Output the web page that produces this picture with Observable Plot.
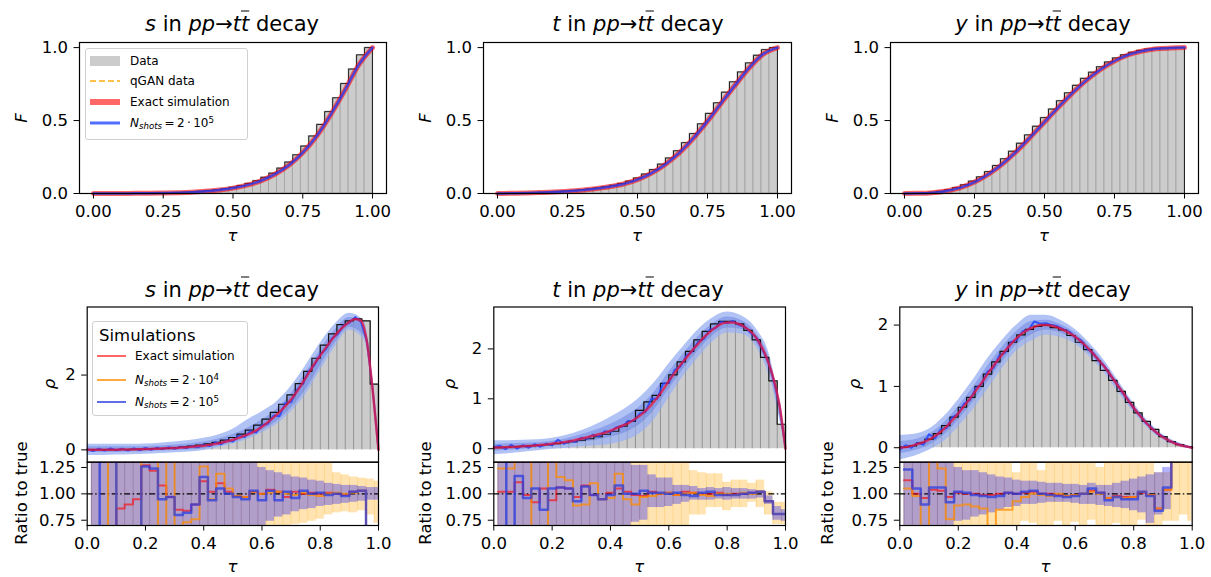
<!DOCTYPE html>
<html>
<head>
<meta charset="utf-8">
<script src="https://cdn.jsdelivr.net/npm/d3@7"></script>
<script src="https://cdn.jsdelivr.net/npm/@observablehq/plot@0.6"></script>
<style>
html,body{margin:0;padding:0;background:#fff;}
#fig{position:relative;width:1211px;height:577px;overflow:hidden;font-family:"DejaVu Sans",sans-serif;color:#000;}
.t{position:absolute;white-space:nowrap;line-height:1;}
.c{transform:translate(-50%,-50%);}
.r{transform:translate(-50%,-50%) rotate(-90deg);}
.ov{text-decoration:overline;text-decoration-thickness:1px;}
.leg{position:absolute;background:rgba(255,255,255,0.8);border:1px solid #d0d0d0;border-radius:3px;box-sizing:border-box;}
.row{position:absolute;left:4px;height:20px;display:flex;align-items:center;white-space:nowrap;}
.row svg{flex:none;}
.sb{font-size:0.72em;vertical-align:-0.25em;line-height:0;}
.sp{font-size:0.72em;vertical-align:0.45em;line-height:0;}
</style>
</head>
<body>
<div id="fig"></div>
<script>
// ---------- x grids (categories) ----------
const tau21 = d3.range(21).map(i => i / 20);
const tau51 = d3.range(51).map(i => i / 50);
const binEdges = d3.range(36).map(k => k / 35);
const binCenters = d3.range(35).map(k => (k + 0.5) / 35);

// ---------- histogram "Data" densities (35 bins) ----------
const histS = [0.005,0.005,0.005,0.005,0.01,0.015,0.02,0.025,0.03,0.04,0.06,0.08,0.1,0.13,0.16,0.2,0.26,0.33,0.42,0.53,0.66,0.82,1.0,1.22,1.47,1.77,2.1,2.45,2.8,3.1,3.35,3.45,3.5,3.45,1.76];
const histT = [0.02,0.03,0.04,0.05,0.06,0.07,0.08,0.1,0.12,0.14,0.17,0.2,0.24,0.29,0.35,0.45,0.55,0.77,0.94,1.07,1.31,1.48,1.74,1.95,2.18,2.35,2.5,2.55,2.55,2.5,2.37,2.18,1.83,1.36,0.49];
const histY = [0.01,0.03,0.08,0.14,0.23,0.36,0.5,0.66,0.82,1.0,1.2,1.4,1.57,1.72,1.84,1.93,1.98,2.0,1.96,1.92,1.83,1.72,1.6,1.42,1.26,1.1,0.92,0.74,0.57,0.43,0.3,0.18,0.1,0.05,0.02];

// ---------- CDF curves (tau21) ----------
const cdfExactS = [0,0.0002,0.0005,0.001,0.0018,0.003,0.0055,0.009,0.015,0.024,0.037,0.057,0.087,0.132,0.193,0.28,0.394,0.54,0.705,0.88,1.0];
const cdfShotsS = [0,0.0003,0.0006,0.0011,0.0019,0.0031,0.0056,0.0092,0.0152,0.0243,0.0372,0.0572,0.0874,0.1324,0.1935,0.2805,0.3943,0.5405,0.7052,0.8803,1.0];
const cdfExactT = [0,0.0012,0.0032,0.0062,0.01,0.015,0.0225,0.033,0.046,0.065,0.095,0.14,0.201,0.28,0.38,0.496,0.622,0.746,0.864,0.957,1.0];
const cdfShotsT = [0,0.0013,0.0033,0.0063,0.0101,0.0152,0.0227,0.0332,0.0462,0.0652,0.0953,0.1402,0.2012,0.2803,0.3802,0.4962,0.6222,0.7462,0.8641,0.9571,1.0];
const cdfExactY = [0,0.001,0.0056,0.017,0.04,0.078,0.132,0.203,0.289,0.387,0.49,0.592,0.69,0.777,0.85,0.908,0.951,0.977,0.992,0.997,1.0];
const cdfShotsY = [0,0.0011,0.0057,0.0172,0.0403,0.0782,0.1322,0.2033,0.2892,0.3873,0.4902,0.5922,0.6902,0.7772,0.8502,0.9081,0.9511,0.9771,0.9921,0.9971,1.0];

// ---------- PDF curves (tau51) ----------
const exactS = [0,0,0,0.002,0.004,0.005,0.007,0.009,0.012,0.016,0.02,0.025,0.03,0.037,0.045,0.05,0.06,0.07,0.085,0.1,0.11,0.135,0.16,0.19,0.23,0.27,0.32,0.38,0.44,0.52,0.62,0.74,0.87,1.01,1.17,1.35,1.56,1.8,2.05,2.3,2.52,2.74,2.95,3.14,3.3,3.42,3.5,3.45,2.9,1.6,0];
const shotsS = [0.02,-0.03,0.03,-0.02,0.04,-0.01,0.03,-0.02,0.04,-0.01,0.05,0.0,0.06,0.02,0.07,0.03,0.08,0.05,0.1,0.07,0.14,0.1,0.2,0.15,0.26,0.22,0.38,0.34,0.5,0.46,0.66,0.7,0.92,0.9,1.25,1.28,1.6,1.77,2.1,2.27,2.55,2.7,2.98,3.1,3.33,3.4,3.55,3.42,2.92,1.62,0];
const exactT = [0.02,0.025,0.03,0.035,0.04,0.05,0.055,0.065,0.075,0.085,0.1,0.115,0.13,0.15,0.175,0.2,0.23,0.26,0.29,0.32,0.36,0.41,0.46,0.51,0.58,0.66,0.76,0.88,1.02,1.18,1.36,1.52,1.68,1.82,1.97,2.1,2.23,2.34,2.43,2.5,2.53,2.53,2.5,2.44,2.35,2.22,2.02,1.75,1.38,0.85,0];
const shotsT = [0.03,0.06,-0.01,0.08,0.0,0.07,0.02,0.09,0.04,0.1,0.07,0.18,0.1,0.16,0.14,0.22,0.2,0.28,0.25,0.35,0.33,0.43,0.44,0.55,0.56,0.7,0.74,1.0,1.0,1.3,1.32,1.58,1.65,1.86,1.95,2.14,2.2,2.38,2.42,2.54,2.52,2.56,2.48,2.45,2.33,2.23,2.0,1.76,1.37,0.86,0];
const exactY = [0,0.01,0.03,0.06,0.09,0.13,0.19,0.26,0.35,0.45,0.56,0.68,0.8,0.93,1.06,1.2,1.33,1.46,1.58,1.69,1.79,1.87,1.93,1.97,2.0,2.0,1.99,1.96,1.92,1.87,1.81,1.73,1.64,1.54,1.43,1.32,1.19,1.05,0.92,0.78,0.65,0.53,0.42,0.32,0.24,0.17,0.12,0.07,0.04,0.02,0];
const shotsY = [-0.03,0.04,0.0,0.08,0.05,0.22,0.15,0.3,0.32,0.5,0.55,0.72,0.78,0.97,1.04,1.24,1.3,1.5,1.55,1.72,1.76,1.9,1.92,2.06,2.02,2.03,2.0,1.98,1.93,1.89,1.8,1.75,1.62,1.55,1.42,1.33,1.18,1.06,0.91,0.79,0.64,0.54,0.41,0.33,0.23,0.18,0.11,0.08,0.04,0.02,0];

// ---------- N_shots uncertainty bands (tau21) ----------
const hi2S = [.15,.15,.15,.15,.16,.18,.21,.25,.31,.4,.55,.8,1.02,1.28,1.7,2.25,2.85,3.35,3.65,3.45,.05];
const hi1S = [.08,.08,.08,.08,.09,.1,.13,.16,.21,.29,.41,.58,.8,1.08,1.5,2.06,2.66,3.2,3.54,3.33,.02];
const lo1S = [-.07,-.07,-.07,-.06,-.05,-.03,-.02,0,.03,.1,.2,.33,.52,.76,1.12,1.6,2.25,2.85,3.28,3.05,0];
const lo2S = [-.15,-.15,-.14,-.13,-.12,-.1,-.08,-.06,-.02,.06,.16,.28,.46,.68,1.02,1.48,2.12,2.74,3.2,2.95,0];
const hi2T = [.16,.16,.17,.18,.21,.27,.36,.48,.63,.8,1.02,1.32,1.7,2.05,2.38,2.62,2.74,2.66,2.4,1.78,.05];
const hi1T = [.09,.1,.11,.12,.15,.2,.28,.37,.49,.64,.84,1.13,1.53,1.9,2.24,2.5,2.64,2.57,2.31,1.69,.02];
const lo1T = [-.05,-.03,-.01,.02,.05,.08,.12,.17,.23,.32,.48,.77,1.19,1.6,1.96,2.26,2.42,2.39,2.13,1.45,0];
const lo2T = [-.12,-.1,-.07,-.04,-.01,.01,.04,.06,.09,.16,.3,.58,1.02,1.45,1.82,2.14,2.32,2.3,2.04,1.35,0];
const hi2Y = [.2,.22,.3,.5,.78,1.1,1.45,1.75,2.0,2.16,2.16,2.08,1.93,1.7,1.42,1.07,.72,.43,.21,.09,.02];
const hi1Y = [.1,.13,.22,.4,.67,.98,1.33,1.64,1.9,2.06,2.08,2.01,1.87,1.65,1.37,1.03,.69,.4,.19,.075,.01];
const lo1Y = [-.1,-.05,.04,.2,.45,.74,1.07,1.4,1.68,1.84,1.92,1.87,1.75,1.53,1.27,.93,.61,.34,.15,.045,-.01];
const lo2Y = [-.2,-.14,-.04,.1,.34,.62,.95,1.29,1.58,1.74,1.84,1.8,1.69,1.48,1.22,.89,.58,.31,.13,.03,-.02];

// ---------- ratio to true (bin centers, 35) ----------
const rExactS = [0,0,0,0.86,0.9,0.95,1.27,1.22,1.08,0.97,0.85,0.84,0.9,1.12,1.02,1.1,1.02,0.98,0.97,1.02,1.0,1.04,1.02,0.97,1.02,1.0,1.01,1.0,1.01,1.0,0.99,1.02,1.03,0.5,0.5];
const r4S = [0,0,2,0,0,0,2,2,0,2,0,0.73,0.76,1.26,0.95,1.19,1.05,0.98,0.97,1.02,1.0,1.01,1.02,1.0,0.99,1.01,0.99,0.98,1.0,1.01,1.0,1.01,1.03,0.5,0.5];
const r5S = [0,2,2,0,0,0,1.26,1.24,0.95,0.97,0.8,0.82,0.9,1.16,0.94,1.05,1.0,0.97,0.95,1.03,0.94,1.03,0.94,1.02,0.96,1.03,1.0,1.01,0.99,1.0,0.98,1.02,1.03,0.5,0.5];
const o4LoS = [0,0,0,0,0,0,0,0,0,0,0,0,0,0,0,0,0,0,0,0,0,0,0,0,0.71,0.72,0.74,0.76,0.8,0.82,0.83,0.82,0.84,0.8,0.72];
const o4HiS = [2,2,2,2,2,2,2,2,2,2,2,2,2,2,2,2,2,2,2,2,2,2,2,2,2,2,2,2,2,1.2,1.18,1.16,1.15,1.14,1.12];
const b5LoS = [0,0,0,0,0,0,0,0,0,0,0,0,0,0,0,0,0,0,0,0,0.7,0.74,0.78,0.8,0.83,0.85,0.86,0.88,0.89,0.9,0.91,0.92,0.93,0.94,0.94];
const b5HiS = [2,2,2,2,2,2,2,2,2,2,2,2,2,2,2,2,2,2,2,2,1.25,1.22,1.2,1.18,1.16,1.15,1.13,1.12,1.1,1.09,1.08,1.08,1.07,1.06,1.06];

const rExactT = [1.02,1.02,1.11,0.99,0.92,1.05,0.94,1.06,1.05,0.97,1.08,0.99,0.95,1.01,1.05,1.02,0.99,0.98,1.02,1.0,1.01,0.99,1.02,1.01,1.0,1.0,1.01,0.99,1.0,1.0,1.01,1.02,0.93,0.81,0.81];
const r4T = [1.24,1.24,2,2,0,0,2,1.16,1.13,0.89,0.9,1.1,0.95,0.96,1.19,0.95,0.9,0.97,0.98,1.0,1.01,0.99,1.0,1.01,0.99,0.98,1.0,1.0,0.99,1.01,1.0,1.02,0.93,0.81,0.81];
const r5T = [2,0,1.17,0.96,1.05,0.85,1.05,1.06,1.05,0.93,1.07,0.99,0.95,0.99,1.08,1.0,1.0,1.03,1.01,1.01,1.0,1.01,0.99,0.98,1.01,1.02,0.99,0.99,0.99,1.0,1.01,1.02,0.93,0.81,0.81];
const o4LoT = [0,0,0,0,0,0,0,0,0,0,0,0,0,0,0,0,0,0,0,0,0,0,0,0.8,0.8,0.87,0.87,0.84,0.87,0.87,0.92,0.87,0.8,0.71,0.71];
const o4HiT = [2,2,2,2,2,2,2,2,2,2,2,2,2,2,2,2,2,2,2,2,2,2,2,1.22,1.2,1.19,1.19,1.11,1.13,1.13,1.1,1.13,1.02,0.92,0.92];
const b5LoT = [0,0,0,0,0,0,0,0,0,0,0,0,0,0,0,0,0.73,0.75,0.87,0.87,0.88,0.9,0.92,0.94,0.94,0.94,0.95,0.94,0.95,0.95,0.95,0.96,0.9,0.75,0.74];
const b5HiT = [2,2,2,2,2,2,2,2,2,2,2,2,2,2,2,2,1.27,1.27,1.18,1.15,1.15,1.08,1.08,1.07,1.05,1.06,1.05,1.06,1.05,1.05,1.04,1.03,0.98,0.88,0.85];

const rExactY = [1.13,1.0,0.96,1.04,1.03,0.97,1.01,1.0,1.0,0.99,0.99,1.0,1.01,1.0,1.01,1.02,1.0,1.0,0.99,0.98,0.99,1.0,1.03,1.01,0.96,0.98,0.97,0.97,1.01,0.99,0.86,1.04,2,2,2];
const r4Y = [1.05,0.98,0,2,1.24,0.76,0.89,0.9,0.88,0.86,0,0.85,0.85,0.93,0.97,1.0,0.99,0.98,1.0,0.98,0.99,1.0,1.02,1.0,0.96,0.97,0.96,0.97,1.02,0.99,0.86,1.04,2,2,2];
const r5Y = [1.23,1.05,0.9,1.06,1.06,0.92,1.02,1.01,0.99,0.98,0.97,0.98,1.01,1.0,1.02,1.03,1.0,0.99,0.98,0.97,0.98,1.0,1.05,1.01,0.94,0.97,0.95,0.95,1.02,0.98,0.84,1.06,2,2,2];
const o4LoY = [0,0,0,0,0,0,0,0,0,0,0,0,0,0,0.74,0.72,0,0,0.74,0,0.73,0,0.75,0,0,0.72,0,0,0.75,0,0,0.74,0.74,0.8,0.74];
const o4HiY = [2,2,2,2,2,2,2,2,2,2,2,2,2,1.2,2,2,1.22,2,2,2,2,2,2,1.25,2,2,2,2,2,2,1.2,1.2,2,2,2];
const b5LoY = [0,0,0,0,0,0,0.74,0.75,0.78,0.8,0.82,0.85,0.87,0.88,0.9,0.9,0.91,0.92,0.92,0.92,0.91,0.9,0.9,0.89,0.88,0.87,0.86,0.84,0.82,0.72,0.8,0.85,null,null,null];
const b5HiY = [2,2,2,2,2,2,1.25,1.22,1.22,1.2,1.18,1.16,1.15,1.13,1.12,1.12,1.11,1.1,1.1,1.09,1.09,1.08,1.1,1.08,1.08,1.1,1.12,1.14,1.16,1.18,1.2,1.25,null,null,null];

// ---------- layout ----------
const fig = document.getElementById("fig");
const STYLE = {fontFamily:'"DejaVu Sans", sans-serif', fontSize:"16.5px", color:"#000", background:"transparent", overflow:"visible"};
const topBox = [{l:79,r:386},{l:483,r:791},{l:890,r:1198}].map(b => ({...b, t:42, b:193}));
const midBox = [{l:86.7,r:378},{l:493.3,r:785},{l:899.3,r:1191.7}].map(b => ({...b, t:306.5, b:461.7}));
const ratBox = midBox.map(b => ({l:b.l, r:b.r, t:461.7, b:525}));

function panel(box, opts) {
  const padL = 62, padR = 14, padT = 6, padB = 34;
  const left = Math.floor(box.l - padL), top = Math.floor(box.t - padT);
  const width = Math.ceil(box.r + padR) - left, height = Math.ceil(box.b + padB) - top;
  const p = Plot.plot({
    width, height,
    marginLeft: box.l - left, marginRight: width - (box.r - left),
    marginTop: box.t - top, marginBottom: height - (box.b - top),
    style: STYLE,
    ...opts
  });
  p.style.position = "absolute"; p.style.left = left + "px"; p.style.top = top + "px";
  fig.appendChild(p);
}
function outlineOf(vals) {
  const pts = [{x:0, y:0}];
  vals.forEach((v,k) => { pts.push({x:binEdges[k], y:v}, {x:binEdges[k+1], y:v}); });
  pts.push({x:1, y:0});
  return pts;
}
const axY = (ticks, fmt) => Plot.axisY({ticks, tickFormat:d3.format(fmt), tickSize:5.5, tickPadding:6, label:null});
const axX = (ticks, fmt) => Plot.axisX({ticks, tickFormat:d3.format(fmt), tickSize:5.5, tickPadding:6.5, label:null});
const FRAME = () => Plot.frame({stroke:"#000", strokeWidth:1.2});

function cdfPanel(i, hist, cExact, cShots) {
  const total = d3.sum(hist);
  const cum = Array.from(d3.cumsum(hist), v => v / total);
  const bars = cum.map((v,k) => ({x1:binEdges[k], x2:binEdges[k+1], y1:0, y2:v}));
  const curve = tau21.map((x,j) => ({x, e:cExact[j], s:cShots[j]}));
  panel(topBox[i], {
    x:{domain:[-0.05,1.05]}, y:{domain:[0,1.035]},
    marks:[
      Plot.rect(bars, {x1:"x1", x2:"x2", y1:"y1", y2:"y2", fill:"#cccccc", stroke:"#9a9a9a", strokeWidth:0.7}),
      Plot.line(outlineOf(cum), {x:"x", y:"y", stroke:"#222", strokeWidth:1}),
      Plot.line(curve, {x:"x", y:"e", stroke:"red", strokeOpacity:0.6, strokeWidth:5, curve:"monotone-x"}),
      Plot.line(curve, {x:"x", y:"s", stroke:"#1a3cff", strokeOpacity:0.75, strokeWidth:2.5, curve:"monotone-x"}),
      FRAME(),
      axX([0,0.25,0.5,0.75,1], ".2f"),
      axY([0,0.5,1], ".1f")
    ]
  });
}

function pdfPanel(i, yDomain, yTicks, hist, exact, shots, lo2, lo1, hi1, hi2) {
  const bars = hist.map((h,k) => ({x1:binEdges[k], x2:binEdges[k+1], y1:0, y2:h}));
  const edges = d3.range(1,35).map(k => ({x:binEdges[k], y1:0, y2:Math.max(hist[k-1], hist[k])}));
  const band = tau21.map((x,j) => ({x, lo2:lo2[j], lo1:lo1[j], hi1:hi1[j], hi2:hi2[j]}));
  const line = tau51.map((x,j) => ({x, e:exact[j], s:shots[j]}));
  panel(midBox[i], {
    x:{domain:[0,1], axis:null}, y:{domain:yDomain},
    marks:[
      Plot.rect(bars, {x1:"x1", x2:"x2", y1:"y1", y2:"y2", fill:"#cccccc"}),
      Plot.ruleX(edges, {x:"x", y1:"y1", y2:"y2", stroke:"#8c8c8c", strokeWidth:0.8}),
      Plot.areaY(band, {x:"x", y1:"lo2", y2:"hi2", fill:"#9db3f2", fillOpacity:0.8, curve:"monotone-x", clip:true}),
      Plot.areaY(band, {x:"x", y1:"lo1", y2:"hi1", fill:"#637ae1", fillOpacity:0.45, curve:"monotone-x", clip:true}),
      Plot.ruleX(edges, {x:"x", y1:"y1", y2:"y2", stroke:"#8c8c8c", strokeWidth:0.8, strokeOpacity:0.35}),
      Plot.line(outlineOf(hist), {x:"x", y:"y", stroke:"#111", strokeWidth:1.2}),
      Plot.line(line, {x:"x", y:"s", stroke:"#1f45ff", strokeOpacity:0.85, strokeWidth:2, clip:true}),
      Plot.line(line, {x:"x", y:"e", stroke:"#ee1133", strokeOpacity:0.72, strokeWidth:2.5, curve:"monotone-x"}),
      FRAME(),
      axY(yTicks, "d")
    ]
  });
}

function ratioPanel(i, rEx, r4, r5, oLo, oHi, bLo, bHi) {
  const xs = binCenters.concat([1]);
  const ext = a => a.concat([a[a.length-1]]);
  const E = ext(rEx), L = ext(r4), H = ext(r5);
  const lines = xs.map((x,k) => ({x, e:E[k], l:L[k], h:H[k]}));
  const rects = binCenters.map((c,k) => ({x1:c, x2:k < 34 ? binCenters[k+1] : 1, oLo:oLo[k], oHi:oHi[k], bLo:bLo[k], bHi:bHi[k]}));
  const blueRects = rects.filter(d => d.bLo != null);
  panel(ratBox[i], {
    x:{domain:[0,1]}, y:{domain:[0.7,1.3]},
    marks:[
      Plot.rect(rects, {x1:"x1", x2:"x2", y1:"oLo", y2:"oHi", fill:"orange", fillOpacity:0.3, clip:true}),
      Plot.ruleX(rects, {x:"x1", y1:"oLo", y2:"oHi", stroke:"orange", strokeOpacity:0.35, strokeWidth:0.7, clip:true}),
      Plot.rect(blueRects, {x1:"x1", x2:"x2", y1:"bLo", y2:"bHi", fill:"blue", fillOpacity:0.3, clip:true}),
      Plot.ruleX(blueRects, {x:"x1", y1:"bLo", y2:"bHi", stroke:"#3030b0", strokeOpacity:0.3, strokeWidth:0.7, clip:true}),
      Plot.ruleY([1], {stroke:"#000", strokeWidth:1.2, strokeDasharray:"6,2.5,1.5,2.5"}),
      Plot.line(lines, {x:"x", y:"e", stroke:"red", strokeOpacity:0.6, strokeWidth:2, curve:"step-after", clip:true}),
      Plot.line(lines, {x:"x", y:"l", stroke:"darkorange", strokeOpacity:0.75, strokeWidth:2, curve:"step-after", clip:true}),
      Plot.line(lines, {x:"x", y:"h", stroke:"#2a3de0", strokeOpacity:0.75, strokeWidth:2.5, curve:"step-after", clip:true}),
      FRAME(),
      axX([0,0.2,0.4,0.6,0.8,1], ".1f"),
      axY([0.75,1,1.25], ".2f")
    ]
  });
}

cdfPanel(0, histS, cdfExactS, cdfShotsS);
cdfPanel(1, histT, cdfExactT, cdfShotsT);
cdfPanel(2, histY, cdfExactY, cdfShotsY);
pdfPanel(0, [-0.33,3.82], [0,2], histS, exactS, shotsS, lo2S, lo1S, hi1S, hi2S);
pdfPanel(1, [-0.27,2.84], [0,1,2], histT, exactT, shotsT, lo2T, lo1T, hi1T, hi2T);
pdfPanel(2, [-0.236,2.295], [0,1,2], histY, exactY, shotsY, lo2Y, lo1Y, hi1Y, hi2Y);
ratioPanel(0, rExactS, r4S, r5S, o4LoS, o4HiS, b5LoS, b5HiS);
ratioPanel(1, rExactT, r4T, r5T, o4LoT, o4HiT, b5LoT, b5HiT);
ratioPanel(2, rExactY, r4Y, r5Y, o4LoY, o4HiY, b5LoY, b5HiY);

// ---------- text ----------
function txt(html, x, y, cls, size) {
  const d = document.createElement("div");
  d.className = "t " + cls;
  d.style.left = x + "px"; d.style.top = y + "px"; d.style.fontSize = size + "px";
  d.innerHTML = html;
  fig.appendChild(d);
}
const varNames = ["s", "t", "y"];
const titleHTML = v => `<i>${v}</i> in <i>pp</i>→<i>t</i><i class="ov">t</i> decay`;
[232, 638, 1043].forEach((x,i) => txt(titleHTML(varNames[i]), x, 24, "c", 21));
[232, 638, 1043].forEach((x,i) => txt(titleHTML(varNames[i]), x, 290, "c", 21));
topBox.forEach(b => txt("<i>F</i>", b.l - 57, (b.t + b.b) / 2, "r", 16.5));
topBox.forEach(b => txt("<i>τ</i>", (b.l + b.r) / 2, 236, "c", 16.5));
[50, 450, 855].forEach(x => txt("<i>ρ</i>", x, 384, "r", 16.5));
[22, 426, 828].forEach(x => txt("Ratio to true", x, 493, "r", 16.5));
midBox.forEach(b => txt("<i>τ</i>", (b.l + b.r) / 2, 567, "c", 16.5));

// ---------- legends ----------
const nShots = p => `<i>N</i><span class="sb"><i>shots</i></span>&thinsp;=&thinsp;2&thinsp;·&thinsp;10<span class="sp">${p}</span>`;
const sw = inner => `<svg width="30" height="12" viewBox="0 0 30 12">${inner}</svg>`;
const leg1 = document.createElement("div");
leg1.className = "leg";
Object.assign(leg1.style, {left:"85px", top:"48px", width:"163px", height:"92px", fontSize:"12px"});
leg1.innerHTML = [
  [sw('<rect x="0" y="1" width="30" height="10" fill="#cccccc"/>'), "Data", 12],
  [sw('<line x1="0" y1="6" x2="30" y2="6" stroke="orange" stroke-opacity="0.7" stroke-width="2" stroke-dasharray="6,3"/>'), "qGAN data", 32],
  [sw('<line x1="0" y1="6" x2="30" y2="6" stroke="red" stroke-opacity="0.6" stroke-width="6"/>'), "Exact simulation", 53],
  [sw('<line x1="0" y1="6" x2="30" y2="6" stroke="#1a3cff" stroke-opacity="0.75" stroke-width="3"/>'), nShots(5), 74]
].map(([s, t, y]) => `<div class="row" style="top:${y - 10}px">${s}<span style="margin-left:10px">${t}</span></div>`).join("");
fig.appendChild(leg1);

const leg2 = document.createElement("div");
leg2.className = "leg";
Object.assign(leg2.style, {left:"92px", top:"321px", width:"156px", height:"95px", fontSize:"12px"});
leg2.innerHTML = `<div class="row" style="top:3px;left:6px;font-size:16.5px">Simulations</div>` + [
  [sw('<line x1="0" y1="6" x2="29" y2="6" stroke="red" stroke-opacity="0.6" stroke-width="2"/>'), "Exact simulation", 34],
  [sw('<line x1="0" y1="6" x2="29" y2="6" stroke="darkorange" stroke-opacity="0.75" stroke-width="2"/>'), nShots(4), 58],
  [sw('<line x1="0" y1="6" x2="29" y2="6" stroke="#2a3de0" stroke-opacity="0.75" stroke-width="2"/>'), nShots(5), 80]
].map(([s, t, y]) => `<div class="row" style="top:${y - 10}px">${s}<span style="margin-left:8px">${t}</span></div>`).join("");
fig.appendChild(leg2);
</script>
</body>
</html>
